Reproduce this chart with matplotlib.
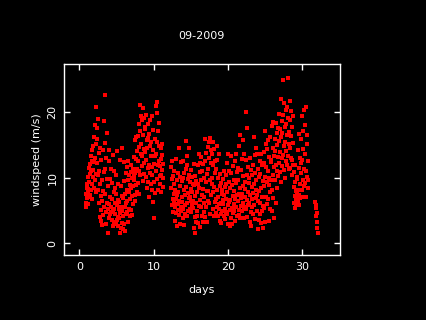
import numpy as np
import matplotlib.pyplot as plt

# hourly wind speed (m/s), three recorded stretches; each row is half a day
start_a, start_b, start_c = 0.85, 12.35, 31.8  # day of first reading in each stretch
step = 1 / 24  # one reading per hour

speed_a = [
    6.2, 7.5, 5.6, 8.4, 6.9, 9.1, 7.8, 6.0, 10.2, 8.3, 11.5, 7.1,
    9.4, 12.1, 7.3, 10.6, 13.4, 8.2, 11.0, 14.3, 9.0, 12.6, 6.8, 10.1,
    11.2, 14.8, 8.5, 16.3, 12.4, 9.7, 18.1, 13.0, 7.9, 15.2, 10.6, 20.9,
    17.6, 12.3, 15.9, 8.1, 19.0, 10.4, 13.8, 6.2, 11.1, 4.0, 9.0, 14.5,
    7.2, 3.4, 12.8, 5.1, 9.6, 2.8, 6.4, 14.2, 4.3, 8.0, 5.5, 10.9,
    18.7, 11.4, 22.6, 7.5, 15.3, 4.8, 13.1, 2.9, 9.8, 16.9, 6.1, 1.6,
    5.2, 8.7, 3.9, 12.6, 6.0, 14.2, 4.4, 9.8, 7.1, 5.6, 11.3, 4.8,
    6.7, 3.6, 9.2, 4.9, 13.5, 2.7, 7.8, 5.3, 11.0, 3.2, 8.4, 6.1,
    4.5, 7.6, 2.9, 10.4, 5.8, 3.5, 14.1, 6.6, 4.0, 9.1, 2.6, 5.2,
    3.8, 6.3, 1.6, 12.7, 4.6, 8.8, 2.4, 5.5, 14.5, 3.1, 7.2, 4.9,
    2.2, 6.9, 4.1, 9.5, 3.0, 12.4, 5.6, 1.8, 7.6, 4.4, 10.8, 6.2,
    8.2, 4.7, 11.6, 6.4, 3.3, 9.7, 12.6, 5.3, 7.9, 10.4, 4.2, 8.9,
    6.8, 10.9, 5.1, 12.0, 8.4, 4.3, 9.9, 7.2, 11.4, 6.0, 8.8, 10.3,
    9.6, 13.2, 7.4, 15.8, 10.7, 6.5, 12.9, 16.2, 8.9, 14.1, 11.3, 7.8,
    12.5, 9.2, 16.4, 11.0, 18.3, 7.6, 14.7, 21.2, 10.4, 17.1, 13.6, 19.5,
    15.1, 11.8, 18.9, 13.3, 20.7, 9.5, 16.6, 12.2, 19.2, 14.4, 10.6, 17.7,
    13.9, 17.5, 10.1, 19.6, 12.7, 15.8, 8.4, 14.6, 18.2, 11.5, 16.1, 9.3,
    12.0, 16.7, 7.1, 14.9, 10.8, 18.8, 13.4, 9.0, 15.5, 11.6, 19.4, 8.2,
    10.5, 14.2, 6.3, 17.3, 3.9, 12.1, 9.4, 16.0, 7.7, 13.3, 11.0, 21.0,
    13.7, 19.9, 9.8, 15.4, 21.6, 11.9, 17.2, 8.1, 14.8, 12.5, 18.4, 10.3,
    11.8, 9.1, 14.6, 10.4, 12.9, 7.9, 15.2, 11.2, 13.5, 8.6, 12.1, 10.0,
]

speed_b = [
    8.4, 11.6, 5.9, 9.8, 12.5, 6.8, 10.3, 4.7, 7.6, 11.1, 9.0, 6.2,
    5.5, 8.2, 3.4, 12.9, 6.7, 4.6, 9.6, 2.7, 7.3, 5.1, 10.8, 6.0,
    7.9, 4.3, 14.5, 6.4, 10.2, 3.0, 8.8, 5.6, 12.4, 4.9, 7.1, 9.5,
    6.3, 9.9, 3.8, 12.6, 5.2, 8.1, 2.8, 10.7, 4.5, 7.4, 5.9, 11.3,
    8.6, 15.7, 6.1, 11.9, 4.2, 13.4, 7.7, 9.8, 5.0, 14.6, 10.5, 6.9,
    7.0, 9.4, 5.3, 11.2, 6.5, 8.3, 4.7, 10.1, 7.8, 5.9, 9.0, 6.4,
    5.4, 8.9, 2.3, 12.1, 4.0, 7.2, 1.6, 10.3, 6.1, 3.3, 9.5, 5.0,
    4.2, 7.8, 11.9, 3.1, 9.1, 13.6, 5.7, 8.4, 2.5, 10.9, 6.6, 12.3,
    9.7, 5.5, 13.2, 7.4, 4.1, 11.0, 8.3, 3.2, 12.1, 6.2, 9.9, 4.8,
    7.1, 12.5, 4.0, 15.9, 9.3, 5.6, 13.8, 3.3, 10.6, 8.0, 14.7, 6.4,
    11.4, 8.0, 15.4, 6.2, 13.1, 9.6, 16.1, 4.5, 12.2, 7.3, 14.3, 10.0,
    9.1, 13.7, 5.2, 15.5, 7.8, 11.9, 4.2, 14.4, 8.6, 10.8, 6.3, 12.6,
    6.8, 11.3, 4.6, 14.9, 8.2, 5.5, 12.7, 7.0, 9.9, 4.1, 13.6, 6.0,
    5.3, 8.7, 3.4, 10.6, 6.1, 4.4, 9.2, 3.1, 7.5, 5.0, 8.1, 6.6,
    6.0, 9.8, 4.2, 11.1, 7.3, 3.7, 8.6, 5.2, 10.4, 6.7, 4.8, 9.0,
    7.8, 4.5, 12.3, 5.9, 13.6, 3.0, 9.4, 6.3, 11.0, 2.7, 8.5, 5.1,
    6.6, 10.7, 3.8, 13.4, 5.4, 8.9, 2.9, 11.8, 7.2, 4.6, 9.6, 6.0,
    8.0, 4.9, 12.6, 6.7, 3.4, 13.7, 9.2, 5.6, 10.9, 7.4, 4.1, 11.5,
    6.4, 9.7, 4.3, 14.8, 7.6, 5.1, 16.5, 8.4, 3.8, 11.2, 6.9, 5.7,
    7.5, 12.9, 4.9, 10.3, 15.8, 6.2, 8.8, 3.9, 13.6, 5.6, 9.4, 7.0,
    8.3, 5.2, 12.8, 20.1, 6.6, 10.5, 4.0, 17.6, 7.9, 11.7, 5.8, 9.2,
    6.1, 9.9, 3.3, 13.1, 7.4, 4.7, 11.2, 2.7, 8.6, 5.5, 10.4, 6.8,
    7.7, 12.0, 4.4, 16.2, 9.1, 5.8, 13.5, 3.7, 10.8, 6.9, 14.6, 8.2,
    9.6, 5.0, 13.7, 7.3, 2.2, 11.4, 6.5, 3.6, 10.1, 8.0, 12.6, 4.5,
    6.2, 10.6, 3.1, 13.6, 8.4, 4.9, 11.9, 7.0, 2.3, 9.5, 5.7, 12.2,
    8.8, 13.9, 5.4, 17.2, 10.2, 3.3, 15.1, 7.1, 11.7, 6.0, 14.4, 9.4,
    11.1, 6.7, 15.8, 8.9, 3.4, 13.2, 10.0, 5.3, 16.3, 7.8, 12.4, 9.6,
    12.7, 8.1, 17.9, 5.0, 14.6, 10.4, 18.6, 6.9, 13.3, 3.8, 11.6, 15.9,
    14.1, 9.7, 18.4, 12.0, 6.2, 16.8, 11.1, 15.0, 8.5, 17.6, 13.2, 10.3,
    15.6, 12.3, 19.8, 10.9, 17.4, 14.0, 22.0, 9.4, 16.2, 13.1, 18.7, 11.8,
    16.9, 25.0, 13.5, 19.6, 11.2, 21.4, 14.8, 17.7, 9.9, 15.5, 20.4, 12.6,
    18.2, 14.1, 20.8, 12.0, 16.5, 25.3, 13.4, 19.1, 11.3, 17.0, 15.2, 21.7,
    14.6, 18.9, 11.5, 20.2, 13.0, 16.4, 10.4, 17.8, 12.7, 15.3, 19.5, 11.9,
    8.6, 6.1, 10.9, 5.4, 9.3, 7.2, 12.0, 5.9, 8.0, 6.7, 10.2, 7.6,
    9.8, 6.4, 14.3, 8.1, 16.7, 5.8, 11.5, 7.3, 13.0, 9.0, 6.9, 12.2,
    10.7, 15.9, 8.2, 19.4, 12.8, 7.0, 17.1, 9.6, 14.4, 11.3, 20.3, 8.8,
    13.6, 9.2, 18.0, 11.0, 20.8, 7.1, 15.2, 10.1, 16.6, 8.4, 12.5, 9.7,
]

speed_c = [6.3, 5.4, 4.1, 5.8, 3.2, 4.6, 2.3, 1.6]

x_ticks = [0, 10, 20, 30]
y_ticks = [0, 10, 20]

fig = plt.figure(figsize=(4.26, 3.2), dpi=100, facecolor="black")
ax = fig.add_axes([0.1514, 0.2031, 0.6467, 0.5969], facecolor="black")

for start, speed in [(start_a, speed_a), (start_b, speed_b), (start_c, speed_c)]:
    days = start + step * np.arange(len(speed))
    ax.plot(days, speed, ls="none", marker="s", ms=2.7, mew=0, color="red",
            antialiased=False)

ax.set_xlim(-2.0, 35.1)
ax.set_ylim(-1.8, 27.4)
ax.set_xticks(x_ticks)
ax.set_yticks(y_ticks)
ax.set_yticklabels([str(t) for t in y_ticks], rotation=90, va="center")
ax.tick_params(direction="in", length=4, width=1, color="white", labelcolor="white",
               labelsize=8, top=True, right=True, pad=5)
for s in ax.spines.values():
    s.set_color("white")
    s.set_linewidth(1)

fig.text(0.474, 0.8875, "09-2009", color="white", fontsize=8, ha="center", va="center")
fig.text(0.474, 0.094, "days", color="white", fontsize=8, ha="center", va="center")
fig.text(0.087, 0.5, "windspeed (m/s)", color="white", fontsize=8, ha="center",
         va="center", rotation=90)

fig.savefig("out.png", dpi=100, facecolor="black")
